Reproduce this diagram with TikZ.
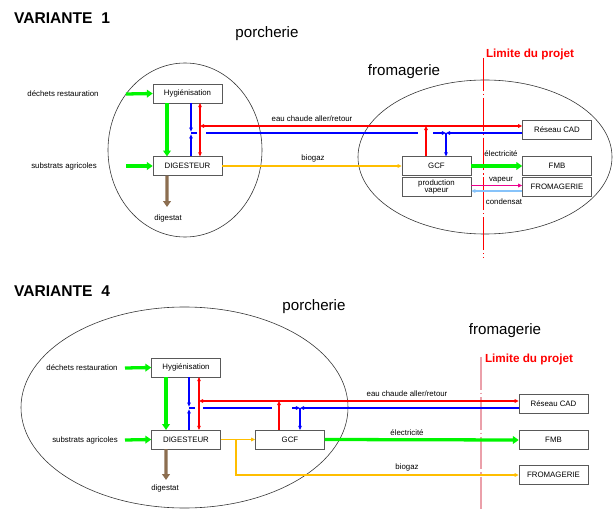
\documentclass[tikz,border=0pt]{standalone}
\usepackage{fontspec}
\setmainfont{Liberation Sans}
\usetikzlibrary{positioning, arrows.meta}

\definecolor{vertvif}{RGB}{0,245,0}
\definecolor{brun}{RGB}{140,110,80}
\definecolor{orangeb}{RGB}{255,190,0}
\definecolor{bleuclair}{RGB}{135,195,250}
\definecolor{rougepale}{RGB}{235,160,170}

\begin{document}
\begin{tikzpicture}[x=0.03cm, y=-0.03cm, >={Triangle[length=3.5pt, width=3pt]}]
		% Styles
		\tikzset{
			boite/.style={draw=black!65, fill=white, minimum width=2.07cm, minimum height=0.56cm, inner sep=0pt, font=\fontsize{6.7}{7}\selectfont},
			petit/.style={font=\fontsize{6.7}{7}\selectfont, inner sep=1pt},
			titre/.style={font=\fontsize{13.3}{15}\selectfont\bfseries, anchor=west},
			zone/.style={font=\fontsize{12.9}{15}\selectfont},
			limite/.style={font=\fontsize{10}{12}\selectfont\bfseries, text=red},
			contour/.style={draw=black!80, line width=0.5pt},
			flux/.style={line width=0.9pt, ->},
			trait/.style={line width=0.9pt},
			gros/.style={line width=2.8pt, -{Triangle[length=5pt, width=6.5pt]}},
			coupure/.style={line width=0.7pt, dash pattern=on 28pt off 2.5pt on 1pt off 2.5pt}
		}
		\useasboundingbox (0,0) rectangle (613,511);
		
		% ===== VARIANTE 1 =====
		\node[titre] (V1) at (10,18) {VARIANTE\ \ 1};
		\node[zone] (porch1) at (267,34) {porcherie};
		\node[zone] (froma1) at (404,72) {fromagerie};
		\node[limite] (lim1) at (530,54) {Limite du projet};
		
		% Zones (porcherie, fromagerie)
		\draw[contour] (185,150) ellipse [x radius=2.31cm, y radius=2.61cm];
		\draw[contour] (485,157) ellipse [x radius=3.81cm, y radius=2.31cm];
		
		% Limite du projet
		\draw[coupure, red] (483,58) -- (483,258);
		
		% Boites
		\node[boite] (hyg1) at (187.5,93.5) {Hygiénisation};
		\node[boite] (dig1) at (187.5,166) {DIGESTEUR};
		\node[boite] (gcf1) at (436.5,166) {GCF};
		\node[boite, align=center, font=\fontsize{6.7}{6}\selectfont] (prod1) at (436.5,187) {production\\vapeur};
		\node[boite] (cad1) at (557,129.5) {Réseau CAD};
		\node[boite] (fmb1) at (557,166) {FMB};
		\node[boite] (from1) at (557,187) {FROMAGERIE};
		
		% Etiquettes
		\node[petit] (dech1) at (63,94) {déchets restauration};
		\node[petit] (subs1) at (64,166) {substrats agricoles};
		\node[petit] (dgst1) at (168,218) {digestat};
		\node[petit] (eau1) at (312,119) {eau chaude aller/retour};
		\node[petit] (bio1) at (313,158) {biogaz};
		\node[petit] (elec1) at (501,154) {électricité};
		\node[petit] (vap1) at (501,180) {vapeur};
		\node[petit] (cond1) at (504,202) {condensat};
		
		% Points de jonction
		\coordinate (e1) at (126,94);
		\coordinate (s1) at (126,166);
		\coordinate (dg1) at (167,207);
		\coordinate (jb1) at (191,133);
		\coordinate (jr1) at (200,126);
		\coordinate (jg1) at (446,133);
		\coordinate (bl1a) at (206,133);
		\coordinate (bl1b) at (418,133);
		\coordinate (bl1c) at (433,133);
		
		% Substrats et digestat
		\draw[gros, vertvif] (e1) -- (hyg1.west);
		\draw[gros, vertvif] (s1) -- (dig1.west);
		\draw[gros, vertvif] ([xshift=-0.615cm]hyg1.south) -- ([xshift=-0.615cm]dig1.north);
		\draw[gros, brun] ([xshift=-0.615cm]dig1.south) -- (dg1);
		
		% Eau chaude aller/retour
		\draw[flux, blue] ([xshift=0.105cm]hyg1.south) -- ([yshift=0.04cm]jb1);
		\draw[flux, blue] ([xshift=0.105cm]dig1.north) -- ([yshift=-0.04cm]jb1);
		\draw[trait, blue] (jb1) -- ++(6,0);
		\draw[flux, red, <->] ([xshift=0.375cm]hyg1.south) -- ([xshift=0.375cm]dig1.north);
		\draw[flux, red, <->] (jr1) -- ([yshift=0.105cm]cad1.west);
		\draw[trait, blue] (bl1a) -- (bl1b);
		\draw[flux, blue] (bl1c) -- (jg1);
		\draw[flux, blue] ([yshift=-0.105cm]cad1.west) -- (jg1);
		\draw[flux, blue] (jg1) -- (jg1 |- gcf1.north);
		\draw[flux, red] ([xshift=-0.315cm]gcf1.north) -- ([xshift=-0.315cm]gcf1.north |- jr1);
		
		% Biogaz, electricite, vapeur
		\draw[flux, orangeb] (dig1.east) -- (gcf1.west);
		\draw[gros, vertvif] (gcf1.east) -- (fmb1.west);
		\draw[flux, magenta] ([yshift=0.045cm]prod1.east) -- ([yshift=0.045cm]from1.west);
		\draw[flux, bleuclair] ([yshift=-0.12cm]from1.west) -- ([yshift=-0.12cm]prod1.east);
		
		% ===== VARIANTE 4 =====
		\node[titre] (V4) at (10,291) {VARIANTE\ \ 4};
		\node[zone] (porch4) at (314,307) {porcherie};
		\node[zone] (froma4) at (505,331) {fromagerie};
		\node[limite] (lim4) at (529,359) {Limite du projet};
		
		% Zone porcherie
		\draw[contour] (184.5,407.5) ellipse [x radius=4.905cm, y radius=3.015cm];
		
		% Limite du projet
		\draw[coupure, rougepale, line width=1.1pt] (481,357) -- (481,511);
		
		% Boites
		\node[boite] (hyg4) at (186,367.5) {Hygiénisation};
		\node[boite] (dig4) at (186,439.5) {DIGESTEUR};
		\node[boite] (gcf4) at (290,439.5) {GCF};
		\node[boite] (cad4) at (553.5,404) {Réseau CAD};
		\node[boite] (fmb4) at (553.5,440) {FMB};
		\node[boite] (from4) at (553.5,475) {FROMAGERIE};
		
		% Etiquettes
		\node[petit] (dech4) at (82,368) {déchets restauration};
		\node[petit] (subs4) at (85,440) {substrats agricoles};
		\node[petit] (dgst4) at (165,488) {digestat};
		\node[petit] (eau4) at (407,394) {eau chaude aller/retour};
		\node[petit] (elec4) at (407,433) {électricité};
		\node[petit] (bio4) at (407,467) {biogaz};
		
		% Points de jonction
		\coordinate (e4) at (125,368);
		\coordinate (s4) at (125,440);
		\coordinate (dg4) at (166,480);
		\coordinate (jb4) at (189,408);
		\coordinate (jr4) at (199,401);
		\coordinate (jg4) at (300,408);
		\coordinate (bl4a) at (203,408);
		\coordinate (bl4b) at (272,408);
		\coordinate (bl4c) at (292,408);
		\coordinate (ob4) at (236,439.5);
		
		% Substrats et digestat
		\draw[gros, vertvif] (e4) -- (hyg4.west);
		\draw[gros, vertvif] (s4) -- (dig4.west);
		\draw[gros, vertvif] ([xshift=-0.6cm]hyg4.south) -- ([xshift=-0.6cm]dig4.north);
		\draw[gros, brun] ([xshift=-0.6cm]dig4.south) -- (dg4);
		
		% Eau chaude aller/retour
		\draw[flux, blue] ([xshift=0.09cm]hyg4.south) -- ([yshift=0.04cm]jb4);
		\draw[flux, blue] ([xshift=0.09cm]dig4.north) -- ([yshift=-0.04cm]jb4);
		\draw[trait, blue] (jb4) -- ++(6,0);
		\draw[flux, red, <->] ([xshift=0.39cm]hyg4.south) -- ([xshift=0.39cm]dig4.north);
		\draw[flux, red, <->] (jr4) -- ([yshift=0.09cm]cad4.west);
		\draw[trait, blue] (bl4a) -- (bl4b);
		\draw[flux, blue] (bl4c) -- (jg4);
		\draw[flux, blue] ([yshift=-0.12cm]cad4.west) -- (jg4);
		\draw[flux, blue] (jg4) -- (jg4 |- gcf4.north);
		\draw[flux, red] ([xshift=-0.33cm]gcf4.north) -- ([xshift=-0.33cm]gcf4.north |- jr4);
		
		% Biogaz et electricite
		\draw[flux, orangeb] (dig4.east) -- (gcf4.west);
		\draw[flux, orangeb] (ob4) |- (from4.west);
		\draw[gros, vertvif] (gcf4.east) -- (fmb4.west);
		
\end{tikzpicture}
\end{document}
